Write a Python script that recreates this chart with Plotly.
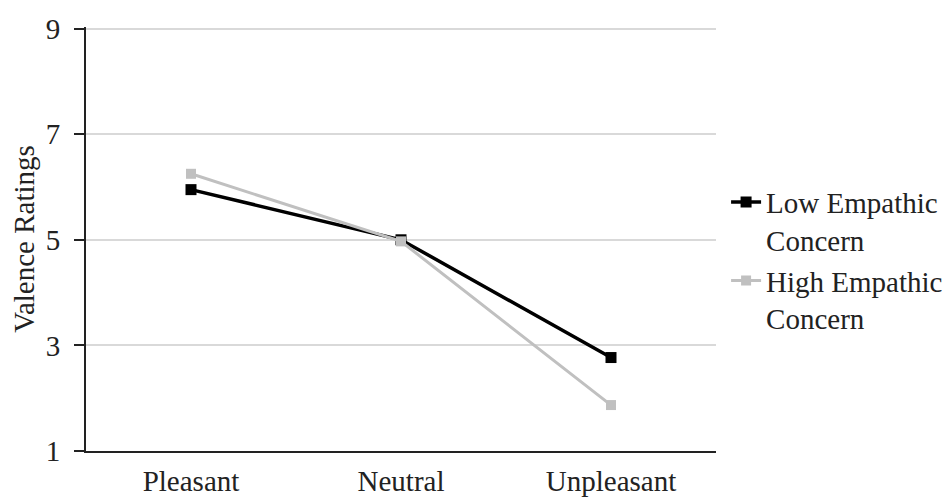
import plotly.graph_objects as go

categories = ["Pleasant", "Neutral", "Unpleasant"]
low_empathic = [5.95, 5.0, 2.77]
high_empathic = [6.25, 4.97, 1.87]
y_ticks = [1, 3, 5, 7, 9]

font_family = "Liberation Serif, Times New Roman, serif"
fs = 29

fig = go.Figure()
fig.add_trace(go.Scatter(
    x=categories, y=low_empathic, mode="lines+markers",
    name="Low Empathic<br>Concern",
    line=dict(color="#000000", width=3.5),
    marker=dict(symbol="square", size=11, color="#000000"),
))
fig.add_trace(go.Scatter(
    x=categories, y=high_empathic, mode="lines+markers",
    name="High Empathic<br>Concern",
    line=dict(color="#c0c0c0", width=3),
    marker=dict(symbol="square", size=10, color="#c0c0c0"),
))

# the page body adds an 8px offset, so the figure is 8px smaller
fig.update_layout(
    width=943, height=490,
    margin=dict(l=78, r=235, t=19, b=47, autoexpand=False),
    plot_bgcolor="white", paper_bgcolor="white",
    font=dict(family=font_family, size=fs, color="#222222"),
    legend=dict(x=1.016, y=0.45, xanchor="left", yanchor="middle",
                font=dict(size=fs, color="#222222"), tracegroupgap=17,
                itemwidth=30, valign="top"),
    showlegend=True,
)
fig.update_xaxes(
    showline=True, linecolor="#222222", linewidth=2,
    showgrid=False, ticks="", tickfont=dict(size=fs),
    range=[-0.5, 2.5], automargin=False, ticklabelstandoff=3,
)
fig.update_yaxes(
    title=dict(text="Valence Ratings", font=dict(size=fs), standoff=21),
    range=[1, 9.03], tickvals=y_ticks,
    showline=True, linecolor="#222222", linewidth=2,
    ticks="outside", ticklen=10, tickwidth=2, tickcolor="#222222",
    showgrid=True, gridcolor="#d9d9d9", gridwidth=1.5,
    zeroline=False, tickfont=dict(size=fs), automargin=False,
    ticklabelstandoff=8,
)

fig.write_html("out.html")
